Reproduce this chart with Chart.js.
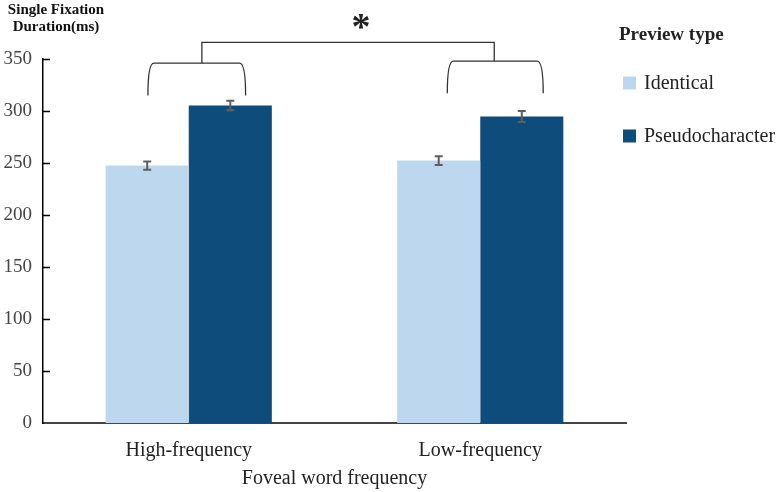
<!DOCTYPE html>
<html>
<head>
<meta charset="utf-8">
<script src="https://cdn.jsdelivr.net/npm/chart.js@4.4.1/dist/chart.umd.min.js"></script>
<style>
html,body{margin:0;padding:0;background:#fff;}
#wrap{width:781px;height:492px;position:relative;}
</style>
</head>
<body>
<div id="wrap"><canvas id="c" width="781" height="492"></canvas></div>
<script>
// ---- data ----
const categories = ["High-frequency", "Low-frequency"];
const seriesNames = ["Identical", "Pseudocharacter"];
const identicalValues = [247.5, 252.3];
const pseudoValues = [305.3, 294.8];
const identicalErrors = [4.0, 4.3];
const pseudoErrors = [4.5, 5.3];
const yTicks = [0, 50, 100, 150, 200, 250, 300, 350];
const yTitle = ["Single Fixation", "Duration(ms)"];
const xTitle = "Foveal word frequency";
const legendTitle = "Preview type";
const sigMark = "*";

const colors = ["#BDD7EE", "#0D4C7B"];
const serif = "'Liberation Serif','Times New Roman',serif";

// bracket geometry (in data units / category-width fractions)
const innerBracketTop = [346, 348];
const innerBracketBottom = [315, 317];
const innerBracketSpan = [[-0.14, 0.195], [-0.113, 0.216]];
const bracketStem = [0.045, 0.048];
const outerBracketY = 366;
const starY = 387;

const errorPlugin = {
  id: 'errs',
  afterDatasetsDraw(chart) {
    const ctx = chart.ctx;
    const errs = [identicalErrors, pseudoErrors];
    const ys = chart.scales.y;
    ctx.save();
    ctx.strokeStyle = '#5f5f5f';
    ctx.lineWidth = 2;
    chart.data.datasets.forEach((ds, di) => {
      const meta = chart.getDatasetMeta(di);
      meta.data.forEach((bar, i) => {
        const v = ds.data[i], e = errs[di][i];
        const x = bar.x;
        const y1 = ys.getPixelForValue(v + e), y2 = ys.getPixelForValue(v - e);
        ctx.beginPath();
        ctx.moveTo(x, y1); ctx.lineTo(x, y2);
        ctx.moveTo(x - 4, y1); ctx.lineTo(x + 4, y1);
        ctx.moveTo(x - 4, y2); ctx.lineTo(x + 4, y2);
        ctx.stroke();
      });
    });
    ctx.restore();
  }
};

const decoPlugin = {
  id: 'deco',
  afterDraw(chart) {
    const ctx = chart.ctx;
    const xs = chart.scales.x, ys = chart.scales.y;
    const area = chart.chartArea;
    const catW = xs.getPixelForValue(1) - xs.getPixelForValue(0);
    ctx.save();
    // inward y ticks
    ctx.strokeStyle = '#000';
    ctx.lineWidth = 1.5;
    yTicks.forEach(t => {
      if (t === 0) return;
      const y = Math.round(ys.getPixelForValue(t)) + 0.5;
      ctx.beginPath(); ctx.moveTo(area.left, y); ctx.lineTo(area.left + 7, y); ctx.stroke();
    });
    // brackets
    ctx.strokeStyle = '#333';
    ctx.lineWidth = 1.3;
    const stems = [];
    categories.forEach((c, i) => {
      const cx = xs.getPixelForValue(i);
      const xl = cx + innerBracketSpan[i][0] * catW;
      const xr = cx + innerBracketSpan[i][1] * catW;
      const yt = ys.getPixelForValue(innerBracketTop[i]);
      const yb = ys.getPixelForValue(innerBracketBottom[i]);
      ctx.beginPath();
      ctx.moveTo(xl, yb);
      ctx.quadraticCurveTo(xl, yt, xl + 6, yt);
      ctx.lineTo(xr - 6, yt);
      ctx.quadraticCurveTo(xr, yt, xr, yb);
      ctx.stroke();
      stems.push({x: cx + bracketStem[i] * catW, y: yt});
    });
    const yo = ys.getPixelForValue(outerBracketY);
    ctx.beginPath();
    ctx.moveTo(stems[0].x, stems[0].y);
    ctx.lineTo(stems[0].x, yo);
    ctx.lineTo(stems[1].x, yo);
    ctx.lineTo(stems[1].x, stems[1].y);
    ctx.stroke();
    // star
    ctx.fillStyle = '#222';
    ctx.font = "bold 38px " + serif;
    ctx.textAlign = 'center';
    ctx.textBaseline = 'middle';
    ctx.fillText(sigMark, (stems[0].x + stems[1].x) / 2 + 13, ys.getPixelForValue(starY) + 9);
    // y title
    ctx.font = "bold 15px " + serif;
    ctx.fillStyle = '#111';
    ctx.fillText(yTitle[0], 56, 10);
    ctx.fillText(yTitle[1], 56, 27);
    // legend
    ctx.textAlign = 'left';
    ctx.font = "bold 19px " + serif;
    ctx.fillStyle = '#222';
    ctx.fillText(legendTitle, area.right - 7, 35);
    ctx.font = "20px " + serif;
    chart.data.datasets.forEach((ds, i) => {
      const cy = 83 + i * 53;
      ctx.fillStyle = ds.backgroundColor;
      ctx.fillRect(area.right - 3, cy - 6.5, 13, 13);
      ctx.fillStyle = '#222';
      ctx.fillText(ds.label, area.right + 18, cy + 1);
    });
    ctx.restore();
  }
};

new Chart(document.getElementById('c'), {
  type: 'bar',
  data: {
    labels: categories,
    datasets: [
      { label: seriesNames[0], data: identicalValues, backgroundColor: colors[0], categoryPercentage: 0.57, barPercentage: 1.0 },
      { label: seriesNames[1], data: pseudoValues, backgroundColor: colors[1], categoryPercentage: 0.57, barPercentage: 1.0 }
    ]
  },
  options: {
    responsive: false,
    animation: false,
    devicePixelRatio: 1,
    layout: { padding: { top: 59, right: 155, left: 0, bottom: 0 } },
    plugins: { legend: { display: false }, tooltip: { enabled: false } },
    scales: {
      x: {
        grid: { display: false, drawTicks: false },
        border: { display: true, color: '#444', width: 2 },
        ticks: { font: { family: serif, size: 20 }, color: '#222', padding: 16 },
        title: { display: true, text: xTitle, font: { family: serif, size: 20 }, color: '#222', padding: { top: 0, bottom: 1 } },
        afterFit(s) { s.height = 69; }
      },
      y: {
        min: 0, max: 350,
        afterBuildTicks(s) { s.ticks = yTicks.map(v => ({ value: v })); },
        grid: { display: false, drawTicks: false },
        border: { display: true, color: '#000', width: 1.5 },
        ticks: { font: { family: serif, size: 19 }, color: '#444', padding: 11 },
        afterFit(s) { s.width = 43; }
      }
    }
  },
  plugins: [errorPlugin, decoPlugin]
});
</script>
</body>
</html>
